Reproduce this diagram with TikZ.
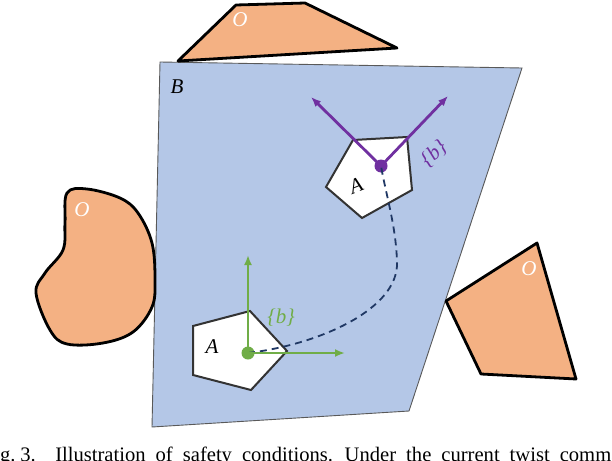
\documentclass[tikz,border=0pt]{standalone}
\usepackage{fontspec}
\setmainfont{Liberation Serif}
\usetikzlibrary{arrows.meta}
\begin{document}
\begin{tikzpicture}[x=1pt,y=-1pt]
    % Define the styles for the regions, frames and labels
    \definecolor{workspace}{HTML}{B4C7E7}
    \definecolor{obstaclefill}{HTML}{F4B183}
    \definecolor{framegreen}{HTML}{70AD47}
    \definecolor{framepurple}{HTML}{7030A0}
    \definecolor{pathnavy}{HTML}{203864}
    \tikzstyle{obstacle}=[draw=black, line width=2.8pt, fill=obstaclefill, line join=round]
    \tikzstyle{body}=[draw=black!80, line width=2pt, fill=white, line join=miter]
    \tikzstyle{label}=[font=\fontsize{21}{24}\selectfont\itshape, inner sep=0pt]
    \tikzstyle{olabel}=[label, text=white]
    \tikzstyle{frameg}=[line width=2.8pt, draw=framegreen, -{Latex[length=10pt,width=8pt]}]
    \tikzstyle{framep}=[line width=2.8pt, draw=framepurple, -{Latex[length=10pt,width=8pt]}]
    \tikzstyle{dot}=[circle, inner sep=0pt, minimum size=13pt]

    \clip (0,0) rectangle (612,460);

    % Draw the workspace
    \draw[fill=workspace, draw=black!65, line width=0.9pt]
        (160,62) -- (522,68) -- (409,411) -- (152,427) -- cycle;
    \node[label] (ws) at (177,87) {B};

    % Draw the obstacles
    \draw[obstacle] (178,61) -- (236,5) -- (305,3) -- (397,48) -- cycle;
    \draw[obstacle]
        plot[smooth cycle, tension=0.6] coordinates {(67,193) (87,189) (120,198) (138,213) (152,243) (155,280)
        (152,307) (133,332) (103,343) (67,344) (50,330) (36,293) (45,273) (63,250) (65,223)};
    \draw[obstacle] (446,301) -- (537,243) -- (576,379) -- (481,374) -- cycle;
    \node[olabel] (obs_top) at (240,20) {O};
    \node[olabel] (obs_left) at (82,210) {O};
    \node[olabel] (obs_right) at (529,269) {O};

    % Draw the robot at the start and goal
    \draw[body] (193,326) -- (250,311) -- (287,351) -- (251,390) -- (193,375) -- cycle;
    \draw[body] (353,140) -- (407,137) -- (412,190) -- (362,218) -- (326,187) -- cycle;
    \node[label] (robot_start) at (212,347) {A};
    \node[label, rotate=22] (robot_goal) at (356,186) {A};

    % Draw the path between the frames
    \node[dot, fill=framegreen] (frame_start) at (248,353) {};
    \node[dot, fill=framepurple] (frame_goal) at (381,166) {};
    \coordinate (mid_path) at (397,262);
    \draw[pathnavy, line width=1.8pt, dash pattern=on 7pt off 5pt]
        (frame_start.center) .. controls (322,344) and (399,308) .. (mid_path)
        .. controls (396,226) and (386,195) .. (frame_goal.center);

    % Draw the body frames
    \coordinate (start_y) at (248,255);
    \coordinate (start_x) at (345,353);
    \coordinate (goal_y) at (311,97);
    \coordinate (goal_x) at (448,96);
    \draw[frameg] (frame_start.center) -- (start_y);
    \draw[frameg] (frame_start.center) -- (start_x);
    \draw[framep] (frame_goal.center) -- (goal_y);
    \draw[framep] (frame_goal.center) -- (goal_x);
    \node[label, text=framegreen] (b_start) at (281,318) {\{b\}};
    \node[label, text=framepurple, rotate=42] (b_goal) at (434,154) {\{b\}};

    % Draw the caption
    \node[anchor=base west, inner sep=0pt, font=\fontsize{20.6}{24}\selectfont] (caption) at (-17.2,461)
        {\spaceskip=10pt Fig.\hspace{4.7pt}3.\hspace{19.5pt}Illustration of safety conditions. Under the current twist command};
\end{tikzpicture}
\end{document}
